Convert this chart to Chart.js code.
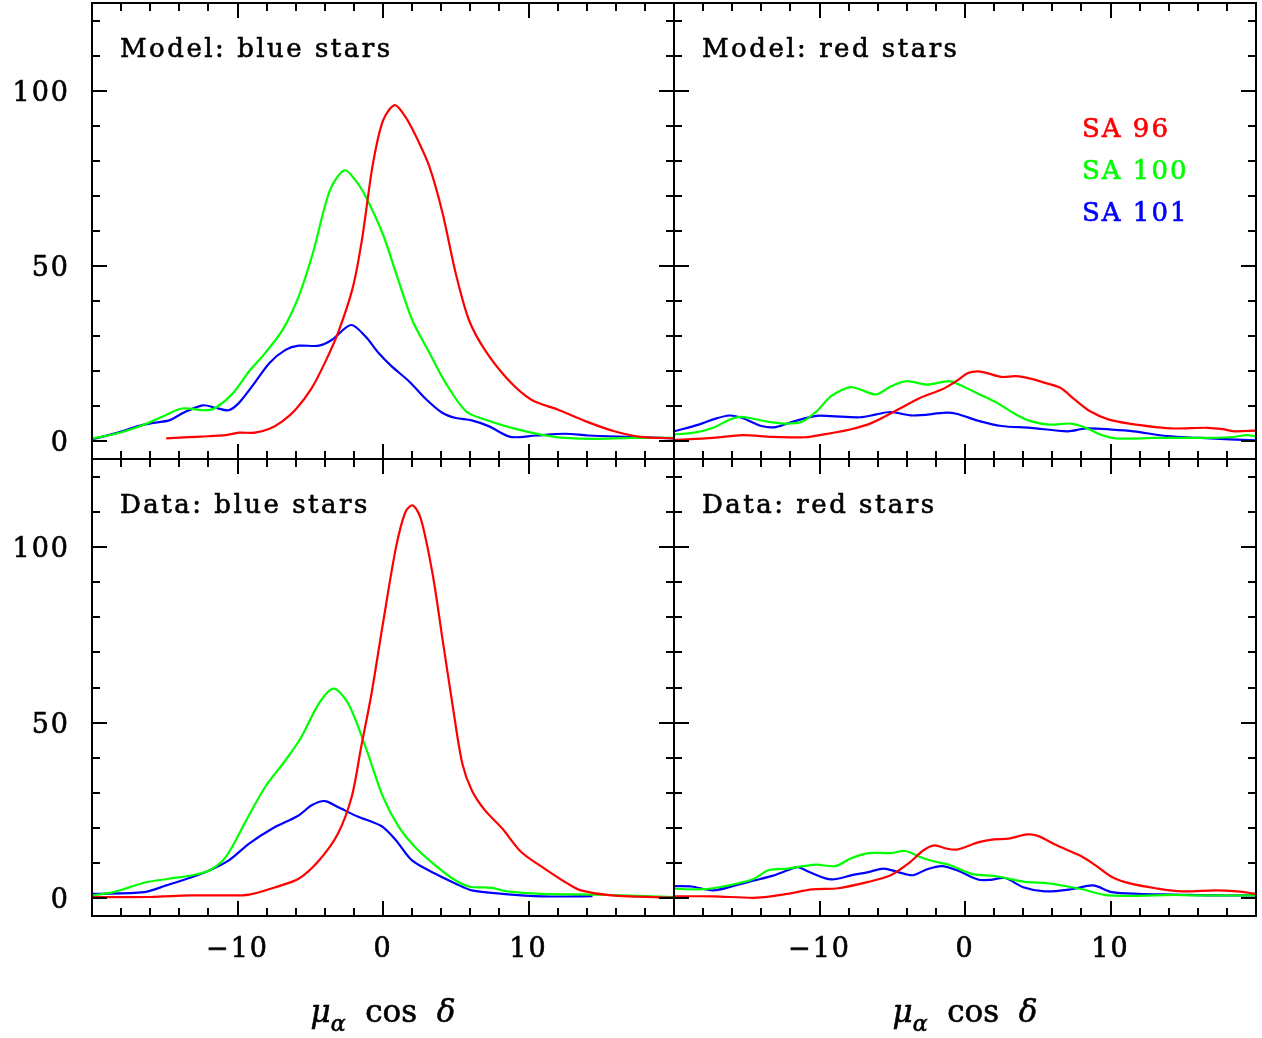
<!DOCTYPE html>
<html>
<head>
<meta charset="utf-8">
<script src="https://cdn.jsdelivr.net/npm/chart.js@4/dist/chart.umd.min.js"></script>
<style>
  html, body { margin: 0; padding: 0; background: #fff; }
  #wrap { position: relative; width: 1262px; height: 1038px; }
  #wrap canvas { position: absolute; left: 0; top: 0; }
</style>
</head>
<body>
<div id="wrap">
  <canvas id="c0" width="1262" height="1038"></canvas>
  <canvas id="c1" width="1262" height="1038"></canvas>
  <canvas id="c2" width="1262" height="1038"></canvas>
  <canvas id="c3" width="1262" height="1038"></canvas>
</div>
<script>
// axis ranges and tick labels
var xMin = -20, xMax = 20;
var yMin = -5, yMax = 125;
var xTickLabels = [-10, 0, 10];
var yTickLabels = [0, 50, 100];
var seriesNames = ['SA 96', 'SA 100', 'SA 101'];

// Model: blue stars
var mbRedX = [-14.9, -12.5, -10.8, -9.9, -8.8, -7.8, -6.9, -6.0, -4.9, -4.0, -3.1, -2.1, -1.45, -0.7, 0, 0.8, 1.5, 2.3, 3.2, 4.1, 5.0, 5.9, 7.0, 8.6, 10.2, 12.0, 13.9, 15.9, 17.7, 20];
var mbRedY = [0.9, 1.4, 1.8, 2.5, 2.5, 3.6, 5.8, 9.1, 15.2, 22.4, 30.9, 43.5, 57.4, 79, 91.5, 95.9, 92.8, 86.7, 78.2, 65, 47.9, 34.7, 26.1, 17.6, 11.9, 9.1, 5.8, 2.9, 1.3, 0.9];
var mbGreenX = [-20, -18.1, -16.3, -15.1, -13.8, -12.2, -11.5, -10.3, -9.2, -8.1, -6.9, -5.8, -4.8, -3.65, -2.65, -1.9, -1.15, 0, 0.9, 2.0, 3.2, 4.3, 5.7, 7.0, 9.1, 11.8, 14.3, 17, 20];
var mbGreenY = [0.8, 2.5, 5.0, 7.2, 9.4, 8.9, 9.6, 13.8, 20, 25.2, 31.8, 41.3, 54, 71.6, 77.3, 74.5, 69.5, 59, 47.9, 34.7, 25.2, 16.7, 8.6, 6.25, 3.6, 1.3, 0.75, 1.0, 1.0];
var mbBlueX = [-20, -18.1, -16.9, -15.8, -14.7, -13.75, -12.4, -11.5, -10.6, -9.9, -9.0, -7.8, -6.7, -5.8, -4.4, -3.5, -2.2, -1.2, -0.3, 0.6, 1.8, 3.0, 4.1, 5.0, 6.1, 7.3, 8.75, 10.5, 12.5, 14.1, 17, 20];
var mbBlueY = [0.6, 2.65, 4.3, 5.3, 6.0, 8.1, 10.3, 9.6, 8.9, 11.0, 15.7, 22.4, 26.1, 27.3, 27.3, 29, 33.2, 29.9, 25.2, 21.4, 17.1, 11.9, 8.1, 6.7, 6.0, 4.3, 1.3, 1.7, 2.2, 1.7, 1.3, 0.9];

// Model: red stars
var mrRedX = [-20, -17.3, -15.3, -13.25, -11, -9.7, -7.9, -6.4, -4.6, -3.1, -1.6, -0.6, 0.2, 0.85, 1.5, 2.5, 3.5, 4.5, 5.5, 6.55, 7.55, 8.6, 9.85, 11.4, 13.1, 14.4, 16.7, 17.7, 18.5, 20];
var mrRedY = [0.4, 1.0, 1.8, 1.3, 1.2, 2.0, 3.4, 5.3, 9.1, 12.4, 14.8, 17.2, 19.5, 20.0, 19.5, 18.4, 18.6, 17.9, 16.7, 15.3, 11.9, 8.6, 6.3, 5.0, 4.1, 3.7, 3.9, 3.5, 2.9, 3.1];
var mrGreenX = [-20, -18.6, -17.3, -16.3, -15.5, -14.8, -13.5, -12.2, -11.2, -10.2, -9.2, -7.9, -7.2, -6.1, -5.1, -4.0, -2.6, -1.1, -0.3, 1.0, 2.2, 3.5, 4.5, 5.8, 7.3, 8.3, 9.3, 10.4, 13.1, 15.7, 18.2, 19.4, 20];
var mrGreenY = [2.0, 2.5, 3.9, 6.0, 7.0, 6.7, 5.6, 5.1, 5.6, 8.6, 12.9, 15.5, 14.8, 13.4, 15.7, 17.2, 16.2, 17.2, 16.0, 13.4, 11.0, 7.7, 5.8, 4.8, 5.1, 3.9, 2.0, 0.85, 1.0, 1.0, 1.2, 1.8, 1.4];
var mrBlueX = [-20, -18.3, -17.3, -16.2, -15.3, -14.0, -13.0, -11.7, -10.2, -9.2, -7.2, -6.1, -5.1, -3.6, -1.3, -0.6, 1.0, 2.5, 4.5, 7.05, 8.3, 10.1, 11.6, 13.9, 16.2, 18.2, 20];
var mrBlueY = [2.9, 4.8, 6.3, 7.4, 6.7, 4.4, 4.1, 5.8, 7.3, 7.2, 6.9, 7.7, 8.4, 7.4, 8.2, 7.9, 5.8, 4.4, 3.9, 2.9, 3.7, 3.4, 2.9, 1.5, 1.0, 0.6, 0.3];

// Data: blue stars
var dbRedX = [-20, -16, -13.3, -10.8, -9.2, -7.4, -5.8, -4.4, -3.1, -2.15, -1.5, -0.8, 0, 0.9, 1.55, 2.05, 2.6, 3.4, 4.1, 4.8, 5.45, 6.1, 7.0, 8.2, 9.5, 11.1, 12.7, 13.6, 15.7, 20];
var dbRedY = [0.4, 0.4, 0.85, 0.85, 1.1, 3.2, 5.6, 10.8, 18.4, 28.9, 43.1, 58, 78.3, 100, 110, 111.8, 108, 92.5, 73.5, 54.5, 38.4, 30.8, 25.1, 19.9, 13.2, 8.5, 4.2, 2.3, 0.85, 0.2];
var dbGreenX = [-20, -18.5, -17.4, -16.3, -14.7, -13.1, -11.9, -10.8, -9.4, -8.1, -6.7, -5.6, -4.4, -3.4, -2.4, -1.2, 0, 1.1, 2.3, 3.6, 4.8, 5.9, 7.5, 8.4, 10.9, 15.0, 20];
var dbGreenY = [0.85, 1.8, 3.2, 4.6, 5.6, 6.6, 8.0, 11.8, 22.2, 31.7, 39.3, 46.0, 55.5, 59.7, 55.5, 43.1, 28.9, 20.3, 14.2, 9.4, 5.6, 3.4, 3.0, 2.1, 1.3, 1.05, 0.4];
var dbBlueX = [-20, -16.4, -14.9, -13.1, -11.9, -10.6, -9.2, -7.6, -5.8, -4.9, -4.0, -3.1, -1.7, -0.9, 0, 0.9, 2.0, 3.6, 5.0, 6.1, 8.2, 10.9, 14.4];
var dbBlueY = [1.3, 1.8, 3.7, 6.1, 8.0, 10.8, 15.6, 19.9, 23.6, 26.5, 27.7, 26.0, 23.2, 22.0, 20.3, 16.5, 10.8, 7.0, 4.2, 2.3, 1.3, 0.57, 0.66];

// Data: red stars
var drRedX = [-20, -17.3, -14.3, -12.2, -10.5, -8.7, -6.65, -5.1, -3.9, -2.85, -2.1, -1.3, -0.55, 0.95, 2.0, 3.0, 4.25, 5.0, 6.3, 7.8, 8.8, 10.1, 11.4, 13.1, 14.9, 17.2, 18.7, 20];
var drRedY = [0.6, 0.6, 0.2, 1.3, 2.6, 2.9, 4.7, 6.6, 9.9, 13.7, 15.1, 14.2, 13.9, 16.0, 16.8, 17.0, 18.2, 17.8, 15.1, 12.4, 9.9, 6.1, 4.2, 2.9, 2.0, 2.3, 2.0, 1.3];
var drGreenX = [-20, -18.3, -17.3, -15.5, -14.5, -13.5, -12.2, -11.2, -10.2, -8.9, -7.9, -6.65, -5.1, -4.1, -3.1, -2.1, -1.1, 0.45, 2.2, 4.0, 5.5, 7.05, 8.05, 9.6, 11.4, 14.4, 15.7, 20];
var drGreenY = [2.75, 2.6, 2.9, 4.4, 5.6, 8.0, 8.5, 9.1, 9.6, 9.2, 11.3, 12.9, 12.9, 13.5, 11.8, 10.5, 9.6, 7.0, 6.3, 4.8, 4.4, 3.4, 2.6, 1.0, 0.75, 1.0, 0.85, 0.85];
var drBlueX = [-20, -18.8, -17.3, -15.8, -14.5, -13.25, -12.2, -11.5, -10.7, -9.2, -7.7, -6.65, -5.6, -4.6, -3.6, -2.6, -1.6, -0.55, 0.95, 1.75, 2.75, 4.0, 5.5, 7.3, 8.8, 10.1, 11.9, 14.4, 17.0, 20];
var drBlueY = [3.5, 3.4, 2.3, 3.7, 5.1, 6.4, 8.0, 8.9, 7.5, 5.4, 6.7, 7.5, 8.5, 7.5, 6.6, 8.3, 9.2, 8.0, 5.3, 5.3, 5.8, 3.2, 2.0, 2.6, 3.7, 1.8, 1.3, 1.1, 0.85, 0.85];

var colors = ['#ff0000', '#00ff00', '#0000ff'];
var serif = '"DejaVu Serif", "Liberation Serif", serif';
var W = 1262, H = 1038;

var panels = [
    { id: 'c0', title: 'Model: blue stars', box: [92, 3, 674, 459], yLabels: true, xLabels: false, legend: false,
      series: [[mbRedX, mbRedY], [mbGreenX, mbGreenY], [mbBlueX, mbBlueY]] },
    { id: 'c1', title: 'Model: red stars', box: [674, 3, 1256, 459], yLabels: false, xLabels: false, legend: true,
      series: [[mrRedX, mrRedY], [mrGreenX, mrGreenY], [mrBlueX, mrBlueY]] },
    { id: 'c2', title: 'Data: blue stars', box: [92, 459, 674, 916], yLabels: true, xLabels: true, legend: false,
      series: [[dbRedX, dbRedY], [dbGreenX, dbGreenY], [dbBlueX, dbBlueY]] },
    { id: 'c3', title: 'Data: red stars', box: [674, 459, 1256, 916], yLabels: false, xLabels: true, legend: false,
      series: [[drRedX, drRedY], [drGreenX, drGreenY], [drBlueX, drBlueY]] }
];

function toPoints(xs, ys) {
    return xs.map(function(x, i) { return { x: x, y: ys[i] }; });
}

function setSpacing(ctx, px) {
    if ('letterSpacing' in ctx) ctx.letterSpacing = px + 'px';
}

// text with a thin outline so the strokes look as heavy as the original
function heavyText(ctx, s, x, y) {
    ctx.fillText(s, x, y);
    ctx.lineWidth = 0.6;
    ctx.strokeStyle = ctx.fillStyle;
    ctx.strokeText(s, x, y);
}

// frame, inward ticks, labels and titles drawn with the chart's scales
var framePlugin = {
    id: 'frame',
    afterDraw: function(chart, args, opts) {
        var ctx = chart.ctx, a = chart.chartArea;
        var xs = chart.scales.x, ys = chart.scales.y;
        var p = opts.panel;
        ctx.save();
        ctx.strokeStyle = '#000';
        ctx.lineWidth = 2;
        ctx.lineCap = 'butt';
        ctx.strokeRect(a.left, a.top, a.right - a.left, a.bottom - a.top);

        ctx.beginPath();
        for (var v = 0; v <= 120; v += 10) {
            var py = Math.round(ys.getPixelForValue(v));
            var len = (v % 50 === 0) ? 15 : 8;
            ctx.moveTo(a.left, py); ctx.lineTo(a.left + len, py);
            ctx.moveTo(a.right, py); ctx.lineTo(a.right - len, py);
        }
        for (var u = -18; u <= 18; u += 2) {
            var px = Math.round(xs.getPixelForValue(u));
            var l2 = (u % 10 === 0) ? 15 : 8;
            ctx.moveTo(px, a.top); ctx.lineTo(px, a.top + l2);
            ctx.moveTo(px, a.bottom); ctx.lineTo(px, a.bottom - l2);
        }
        ctx.stroke();

        ctx.fillStyle = '#000';
        ctx.font = '27px ' + serif;
        setSpacing(ctx, 2);
        if (p.yLabels) {
            ctx.textAlign = 'right';
            ctx.textBaseline = 'alphabetic';
            yTickLabels.forEach(function(t) {
                heavyText(ctx, String(t), 70, ys.getPixelForValue(t) + 10);
            });
        }
        if (p.xLabels) {
            ctx.textAlign = 'center';
            xTickLabels.forEach(function(t) {
                var s = t < 0 ? '\u2212' + Math.abs(t) : String(t);
                heavyText(ctx, s, xs.getPixelForValue(t), 957);
            });
            drawAxisTitle(ctx, xs.getPixelForValue(0), 1022);
        }

        ctx.textAlign = 'left';
        ctx.font = '26px ' + serif;
        setSpacing(ctx, 2.5);
        heavyText(ctx, p.title, a.left + 28, a.top + 54);

        if (p.legend) {
            ctx.font = '26px ' + serif;
            setSpacing(ctx, 2);
            seriesNames.forEach(function(n, i) {
                ctx.fillStyle = colors[i];
                heavyText(ctx, n, 1082, 137 + i * 42);
            });
        }
        ctx.restore();
    }
};

function drawAxisTitle(ctx, cx, base) {
    setSpacing(ctx, 0);
    var parts = [
        { t: '\u03bc', f: 'italic 31px ' + serif, dy: 0 },
        { t: '\u03b1', f: 'italic 22px ' + serif, dy: 9 },
        { t: '  cos  ', f: '31px ' + serif, dy: 0 },
        { t: '\u03b4', f: 'italic 31px ' + serif, dy: 0 }
    ];
    var total = 0;
    parts.forEach(function(pt) { ctx.font = pt.f; pt.w = ctx.measureText(pt.t).width; total += pt.w; });
    var x = cx - total / 2;
    ctx.textAlign = 'left';
    parts.forEach(function(pt) {
        ctx.font = pt.f;
        heavyText(ctx, pt.t, x, base + pt.dy);
        x += pt.w;
    });
}

panels.forEach(function(p) {
    var b = p.box;
    new Chart(document.getElementById(p.id), {
        type: 'line',
        data: {
            datasets: p.series.map(function(s, i) {
                return {
                    label: seriesNames[i],
                    data: toPoints(s[0], s[1]),
                    borderColor: colors[i],
                    borderWidth: 2.2,
                    pointRadius: 0,
                    fill: false,
                    tension: 0.3
                };
            })
        },
        options: {
            responsive: false,
            animation: false,
            devicePixelRatio: 1,
            layout: { padding: { left: b[0], top: b[1], right: W - b[2], bottom: H - b[3] } },
            plugins: { legend: { display: false }, tooltip: { enabled: false }, frame: { panel: p } },
            scales: {
                x: { type: 'linear', min: xMin, max: xMax, display: false },
                y: { type: 'linear', min: yMin, max: yMax, display: false }
            }
        },
        plugins: [framePlugin]
    });
});
</script>
</body>
</html>
